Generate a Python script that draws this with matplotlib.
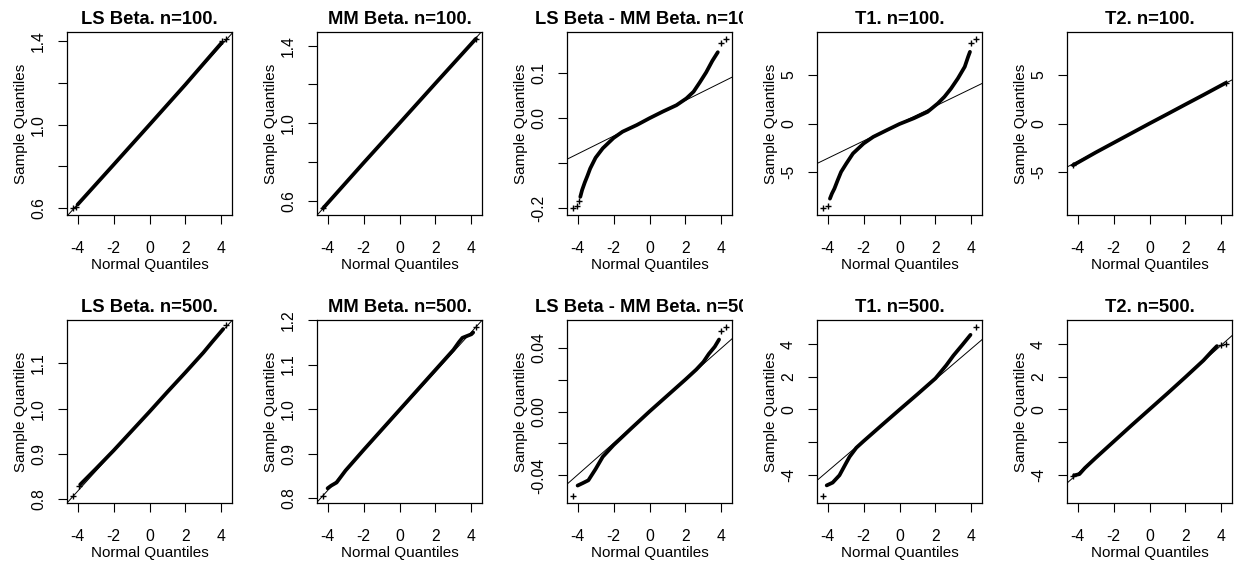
import matplotlib
matplotlib.use("Agg")
import matplotlib.pyplot as plt
from matplotlib.transforms import Bbox, TransformedBbox

plt.rcParams['font.family'] = ['Liberation Sans', 'DejaVu Sans']

# titles, row by row
titles = [
    "LS Beta. n=100.", "MM Beta. n=100.", "LS Beta - MM Beta. n=100.", "T1. n=100.", "T2. n=100.",
    "LS Beta. n=500.", "MM Beta. n=500.", "LS Beta - MM Beta. n=500.", "T1. n=500.", "T2. n=500.",
]

# --- n=100 ---
ls100_x = [-4.0, -2.0, 0.0, 2.0, 4.0]
ls100_y = [0.617, 0.808, 1.0, 1.193, 1.392]
ls100_tx = [-4.25, -4.1, 4.05, 4.25]
ls100_ty = [0.600, 0.606, 1.400, 1.413]

mm100_x = [-4.25, -2.0, 0.0, 2.0, 4.25]
mm100_y = [0.561, 0.795, 1.0, 1.206, 1.436]
mm100_tx = [-4.25, 4.25]
mm100_ty = [0.561, 1.436]

df100_x = [-3.85, -3.75, -3.6, -3.45, -3.3, -3.0, -2.6, -2.0, -1.5, -0.7, 0.0,
           0.75, 1.5, 2.05, 2.45, 2.8, 3.15, 3.5, 3.8]
df100_y = [-0.175, -0.160, -0.143, -0.128, -0.112, -0.088, -0.067, -0.044, -0.030, -0.015, 0.0,
           0.015, 0.029, 0.044, 0.059, 0.080, 0.102, 0.128, 0.147]
df100_tx = [-4.25, -4.02, -3.93, 4.0, 4.25]
df100_ty = [-0.200, -0.195, -0.185, 0.168, 0.177]

t1100_x = [-3.87, -3.76, -3.62, -3.44, -3.25, -2.96, -2.59, -2.0, -1.46, -0.71, 0.0,
           0.81, 1.56, 2.13, 2.5, 2.87, 3.25, 3.63, 3.82, 3.92]
t1100_y = [-7.76, -7.24, -6.72, -5.86, -5.0, -4.14, -3.1, -2.07, -1.38, -0.69, -0.05,
           0.55, 1.2, 2.07, 2.76, 3.62, 4.66, 5.86, 6.9, 7.4]
t1100_tx = [-4.25, -4.0, 4.0, 4.25]
t1100_ty = [-8.75, -8.5, 8.28, 8.75]

t2100_x = [-4.25, -4.0, -3.0, -2.0, -1.0, 0.0, 1.0, 2.0, 3.0, 4.0, 4.25]
t2100_y = [-4.3, -4.05, -3.0, -2.0, -1.0, 0.0, 0.98, 1.97, 2.95, 3.95, 4.2]
t2100_tx = [-4.25, 4.25]
t2100_ty = [-4.3, 4.2]

# --- n=500 ---
ls500_x = [-3.85, -3.0, -2.0, -1.0, 0.0, 1.0, 2.0, 3.0, 3.5, 4.1]
ls500_y = [0.832, 0.866, 0.907, 0.950, 0.993, 1.037, 1.080, 1.124, 1.148, 1.176]
ls500_tx = [-4.25, -3.95, 4.25]
ls500_ty = [0.806, 0.828, 1.184]

mm500_x = [-4.0, -3.8, -3.5, -3.0, -2.0, -1.0, 0.0, 1.0, 2.0, 3.0, 3.3, 3.5, 4.0, 4.1]
mm500_y = [0.822, 0.828, 0.835, 0.862, 0.908, 0.953, 0.998, 1.043, 1.088, 1.133, 1.150, 1.160, 1.168, 1.172]
mm500_tx = [-4.25, 4.25]
mm500_ty = [0.804, 1.185]

df500_x = [-4.0, -3.7, -3.4, -3.0, -2.6, -2.0, -1.0, 0.0, 1.0, 2.0, 2.6, 3.0, 3.3, 3.63, 3.87]
df500_y = [-0.0463, -0.0447, -0.0430, -0.0360, -0.0283, -0.0210, -0.0104, 0.0, 0.0100, 0.0200,
           0.0262, 0.0310, 0.0360, 0.0405, 0.0450]
df500_tx = [-4.25, 4.0, 4.25]
df500_ty = [-0.0526, 0.0505, 0.0530]

t1500_x = [-4.05, -3.72, -3.34, -3.0, -2.78, -2.4, -2.0, -1.0, 0.0, 1.0, 2.0, 2.6, 3.0, 3.5, 3.95]
t1500_y = [-4.66, -4.49, -4.04, -3.35, -2.91, -2.35, -1.95, -0.98, -0.02, 0.93, 1.9, 2.7, 3.3, 3.96, 4.57]
t1500_tx = [-4.25, 4.25]
t1500_ty = [-5.33, 5.06]

t2500_x = [-4.2, -3.9, -3.6, -3.0, -2.0, -1.0, 0.0, 1.0, 2.0, 3.0, 3.5, 3.75]
t2500_y = [-4.05, -3.97, -3.6, -2.98, -1.98, -0.98, 0.0, 0.98, 1.98, 3.0, 3.6, 3.88]
t2500_tx = [-4.25, 4.0, 4.25]
t2500_ty = [-4.08, 3.92, 4.02]

# qqline: intercept and slope
qq_icpt = [1.0, 1.0, 0.0, 0.0, 0.0, 0.993, 0.995, 0.0, -0.04, 0.0]
qq_slope = [0.0955, 0.1035, 0.0199, 0.9, 0.98, 0.044, 0.0445, 0.0099, 0.94, 0.985]

y_lims = [(0.567, 1.445), (0.526, 1.471), (-0.2155, 0.192), (-9.45, 9.45), (-9.45, 9.45),
          (0.791, 1.196), (0.789, 1.200), (-0.0572, 0.0572), (-5.74, 5.48), (-5.74, 5.48)]
y_ticks = [[0.6, 0.8, 1.0, 1.2, 1.4], [0.6, 0.8, 1.0, 1.2, 1.4], [-0.2, -0.1, 0.0, 0.1],
           [-5, 0, 5], [-5, 0, 5], [0.8, 0.9, 1.0, 1.1], [0.8, 0.9, 1.0, 1.1, 1.2],
           [-0.04, -0.02, 0.0, 0.02, 0.04], [-4, -2, 0, 2, 4], [-4, -2, 0, 2, 4]]
y_labels = [["0.6", "", "1.0", "", "1.4"], ["0.6", "", "1.0", "", "1.4"], ["-0.2", "", "0.0", "0.1"],
            ["-5", "0", "5"], ["-5", "0", "5"], ["0.8", "0.9", "1.0", "1.1"],
            ["0.8", "0.9", "1.0", "1.1", "1.2"], ["-0.04", "", "0.00", "", "0.04"],
            ["-4", "", "0", "2", "4"], ["-4", "", "0", "2", "4"]]
x_ticks = [-4, -2, 0, 2, 4]

bodies = [(ls100_x, ls100_y), (mm100_x, mm100_y), (df100_x, df100_y), (t1100_x, t1100_y), (t2100_x, t2100_y),
          (ls500_x, ls500_y), (mm500_x, mm500_y), (df500_x, df500_y), (t1500_x, t1500_y), (t2500_x, t2500_y)]
tails = [(ls100_tx, ls100_ty), (mm100_tx, mm100_ty), (df100_tx, df100_ty), (t1100_tx, t1100_ty),
         (t2100_tx, t2100_ty), (ls500_tx, ls500_ty), (mm500_tx, mm500_ty), (df500_tx, df500_ty),
         (t1500_tx, t1500_ty), (t2500_tx, t2500_ty)]

W, H = 1238, 567
fig = plt.figure(figsize=(W / 100, H / 100), dpi=100)
gs = fig.add_gridspec(2, 5, left=67 / W, right=1232 / W, top=1 - 32 / H, bottom=1 - 503 / H,
                      wspace=85 / 165, hspace=105 / 183)

for i in range(10):
    row, col = divmod(i, 5)
    ax = fig.add_subplot(gs[row, col])

    ax.axline((0, qq_icpt[i]), slope=qq_slope[i], color='black', lw=0.7)
    bx, by = bodies[i]
    ax.plot(bx, by, color='black', lw=2.7, solid_capstyle='round', solid_joinstyle='round')
    tx, ty = tails[i]
    ax.plot(tx, ty, '+', color='black', ms=4.5, mew=1.0)

    ax.set_xlim(-4.59, 4.59)
    ax.set_ylim(*y_lims[i])
    ax.set_xticks(x_ticks)
    ax.set_xticklabels([str(v) for v in x_ticks])
    ax.set_yticks(y_ticks[i])
    ax.set_yticklabels(y_labels[i], rotation=90, va='center')
    ax.tick_params(direction='out', length=6.5, width=0.8, labelsize=11.3, colors='black')
    ax.tick_params(axis='x', pad=12.5)
    ax.tick_params(axis='y', pad=8.6)
    for s in ax.spines.values():
        s.set_linewidth(0.9)

    ax.set_xlabel("Normal Quantiles", fontsize=11)
    ax.xaxis.set_label_coords(0.5, -43 / 183)
    ax.set_ylabel("Sample Quantiles", fontsize=11)
    ax.yaxis.set_label_coords(-38.5 / 165, 0.5)

    t = ax.set_title(titles[i], fontsize=13.2, fontweight='bold', pad=5.8)
    # R clips text at the figure region of each panel
    region = Bbox([[col / 5, 0], [(col + 1) / 5, 1]])
    t.set_clip_box(TransformedBbox(region, fig.transFigure))
    t.set_clip_on(True)

fig.savefig("out.png", dpi=100, facecolor='white')
